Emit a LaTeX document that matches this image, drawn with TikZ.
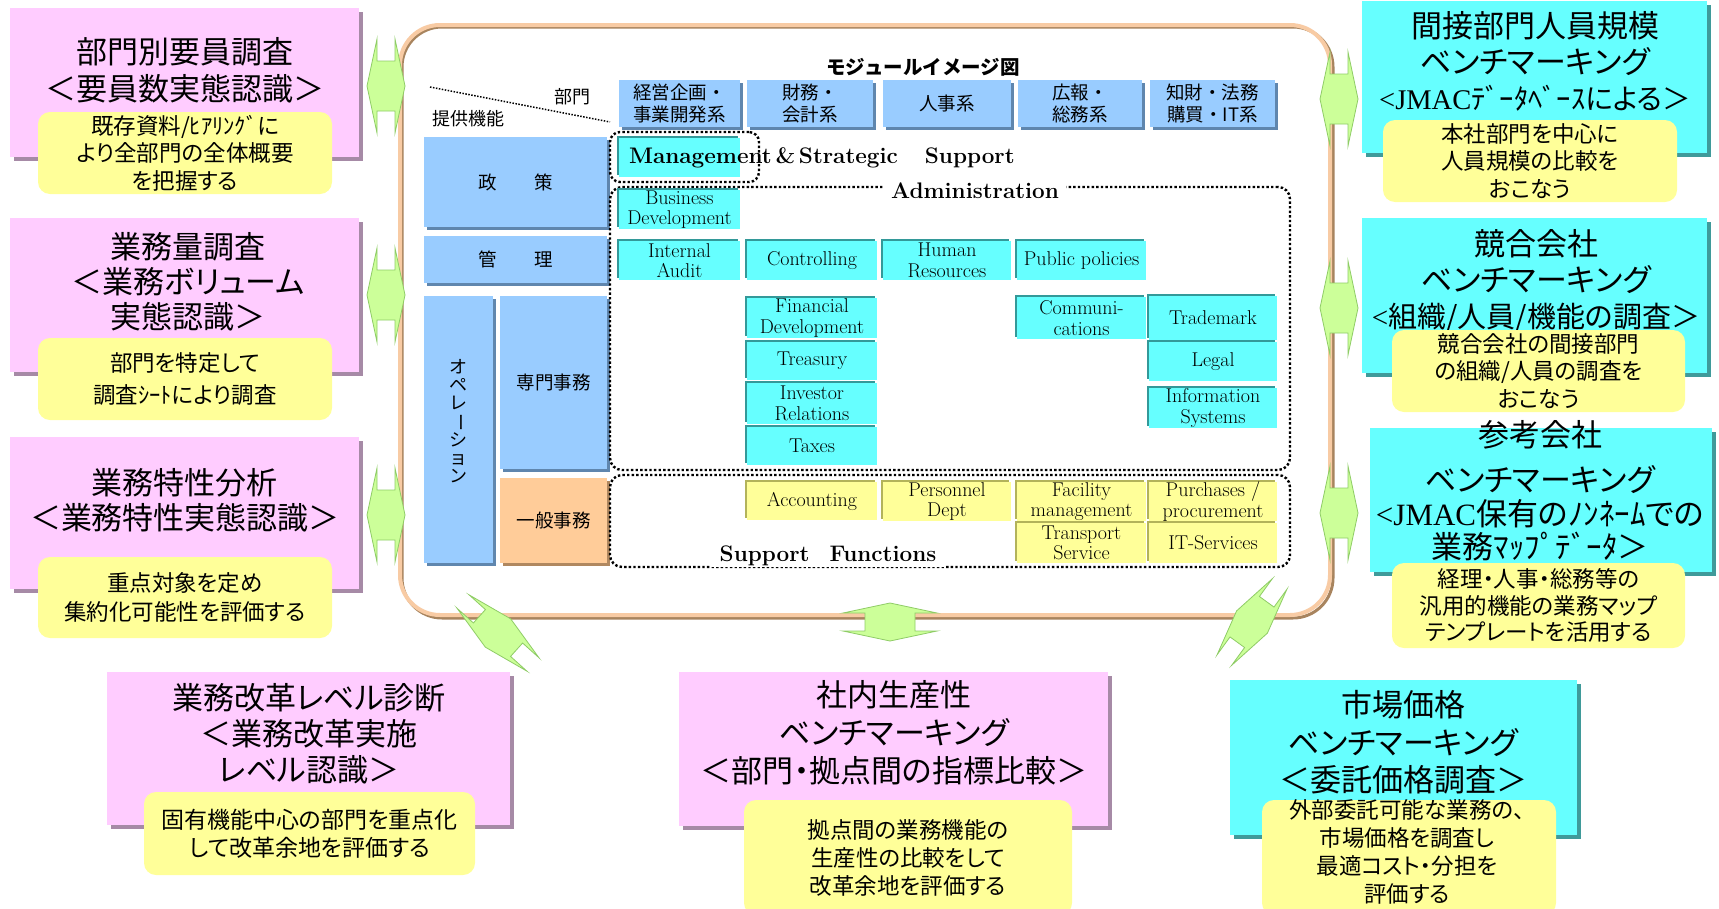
\documentclass[tikz,border=0pt]{standalone}
\usepackage{fontspec}
\usepackage{graphicx}
\usetikzlibrary{shadows}
\newfontfamily\jp[RawFeature=+palt]{Noto Sans CJK JP}
\newfontfamily\jpf{Noto Sans CJK JP}
\newfontfamily\ens{Liberation Serif}
\definecolor{pinkc}{HTML}{FFCCFF}
\definecolor{pinksh}{HTML}{A68AA6}
\definecolor{cyanc}{HTML}{66FFFF}
\definecolor{cyansh}{HTML}{3F9A9A}
\definecolor{yel}{HTML}{FFFF99}
\definecolor{bluec}{HTML}{99CCFF}
\definecolor{bluesh}{HTML}{5F86AE}
\definecolor{orangec}{HTML}{FFCC99}
\definecolor{orangesh}{HTML}{B08860}
\definecolor{celledge}{HTML}{339999}
\definecolor{yeledge}{HTML}{B3B35A}
\definecolor{agreen}{HTML}{CCFF99}
\definecolor{agreenedge}{HTML}{8FCC66}
\definecolor{peach}{HTML}{F8CBA4}
\definecolor{framebrown}{HTML}{A8845E}
\newcommand\cbox[7]{\node[#6, minimum width={(#4)-(#2)}, minimum height={(#5)-(#3)}] (#1) at ({((#2)+(#4))/2},{((#3)+(#5))/2}) {#7};}
\newcommand\tfont[1]{\jp\fontsize{31}{#1}\selectfont}
\newcommand\nfont[1]{\jp\fontsize{22.5}{#1}\selectfont}
\tikzset{
  every node/.style={inner sep=0pt, outer sep=0pt},
  pinkbox/.style={fill=pinkc, general shadow={fill=pinksh, shadow xshift=4pt, shadow yshift=-4pt}},
  cyanbox/.style={fill=cyanc, general shadow={fill=cyansh, shadow xshift=4pt, shadow yshift=-4pt}},
  note/.style={fill=yel, rounded corners=12pt, align=center},
  hdr/.style={fill=bluec, general shadow={fill=bluesh, shadow xshift=2.5pt, shadow yshift=-2.5pt}, font=\jpf\fontsize{18.5}{22}\selectfont, align=center},
  obox/.style={fill=orangec, general shadow={fill=orangesh, shadow xshift=2.5pt, shadow yshift=-2.5pt}, font=\jpf\fontsize{18.5}{22}\selectfont, align=center},
  ccell/.style={fill=cyanc, general shadow={fill=celledge, shadow xshift=-2pt, shadow yshift=2pt}, font=\fontsize{20}{20.5}\selectfont, align=center},
  ycell/.style={fill=yel, general shadow={fill=yeledge, shadow xshift=-2pt, shadow yshift=2pt}, font=\fontsize{20}{20.5}\selectfont, align=center},
  dotzone/.style={draw, line width=2.4pt, dash pattern=on 2.4pt off 2.2pt, rounded corners=12pt},
  boldlab/.style={font=\bfseries\fontsize{22.5}{24}\selectfont},
  ttl/.style={align=center},
  dblarrow/.pic={\path[fill=agreen, draw=agreenedge, line width=0.8pt] (-19,0) -- (-9,-47) -- (-9,-25) -- (9,-25) -- (9,-47) -- (19,0) -- (9,47) -- (9,25) -- (-9,25) -- (-9,47) -- cycle;}
}
\begin{document}
\begin{tikzpicture}[x=1pt,y=-1pt]
\useasboundingbox[fill=white] (0,0) rectangle (1719,908);
% frame
\cbox{frameS}{402}{27}{1333}{618}{draw=framebrown, line width=3pt, rounded corners=40pt}{}
\cbox{frame}{400}{25}{1330}{615}{draw=peach, line width=4pt, rounded corners=40pt}{}
% green double arrows
\pic (aL1) at (386,86) {dblarrow};
\pic (aL2) at (386,295) {dblarrow};
\pic (aL3) at (386,515) {dblarrow};
\pic (aR1) at (1339,99) {dblarrow};
\pic (aR2) at (1339,308) {dblarrow};
\pic (aR3) at (1339,513) {dblarrow};
\pic[rotate=90] (aB) at (890,622) {dblarrow};
\pic[rotate=48] (aBL) at (498,633) {dblarrow};
\pic[rotate=-36] (aBR) at (1252,622) {dblarrow};
% left pink boxes
\cbox{p1}{10}{8}{359}{157}{pinkbox}{}
\node[ttl, font=\tfont{37}] (p1t) at (185,70.5) {部門別要員調査\\＜要員数実態認識＞};
\cbox{p1n}{38}{112}{332}{194}{note, font=\nfont{27.5}}{既存資料/ﾋｱﾘﾝｸﾞに\\より全部門の全体概要\\を把握する}
\cbox{p2}{10}{218}{359}{372}{pinkbox}{}
\node[ttl, font=\tfont{35}] (p2t) at (188,282) {業務量調査\\＜業務ボリューム\\実態認識＞};
\cbox{p2n}{38}{338}{332}{420}{note, font=\nfont{31.5}}{部門を特定して\\調査ｼｰﾄにより調査}
\cbox{p3}{10}{437}{359}{589}{pinkbox}{}
\node[ttl, font=\tfont{35}] (p3t) at (185,500.5) {業務特性分析\\＜業務特性実態認識＞};
\cbox{p3n}{38}{557}{332}{638}{note, font=\nfont{29}}{重点対象を定め\\集約化可能性を評価する}
% bottom boxes
\cbox{p4}{107}{672}{510}{825}{pinkbox}{}
\node[ttl, font=\tfont{36}] (p4t) at (309,734) {業務改革レベル診断\\＜業務改革実施\\レベル認識＞};
\cbox{p4n}{144}{792}{475}{875}{note, font=\jp\fontsize{23}{28}\selectfont}{固有機能中心の部門を重点化\\して改革余地を評価する}
\cbox{p5}{679}{672}{1108}{826}{pinkbox}{}
\node[ttl, font=\tfont{38}] (p5t) at (894,733) {社内生産性\\ベンチマーキング\\＜部門・拠点間の指標比較＞};
\cbox{p5n}{744}{800}{1072}{915}{note, font=\nfont{28}}{拠点間の業務機能の\\生産性の比較をして\\改革余地を評価する}
\cbox{c6}{1230}{680}{1577}{835}{cyanbox}{}
\node[ttl, font=\tfont{37.5}] (c6t) at (1403,742.5) {市場価格\\ベンチマーキング\\＜委託価格調査＞};
\cbox{c6n}{1262}{800}{1556}{915}{note}{}
\node[ttl, font=\nfont{28}] (c6nt) at (1407,852) {外部委託可能な業務の、\\市場価格を調査し\\最適コスト・分担を\\評価する};
% right cyan boxes
\cbox{r1b}{1362}{1}{1707}{153}{cyanbox}{}
\node[ttl, font=\tfont{36}] (r1t) at (1535,61) {間接部門人員規模\\ベンチマーキング\\{\fontsize{28.5}{36}\selectfont{\ens <JMAC}ﾃﾞｰﾀﾍﾞｰｽによる＞}};
\cbox{r1n}{1383}{120}{1677}{202}{note, font=\nfont{27.5}}{本社部門を中心に\\人員規模の比較を\\おこなう}
\cbox{r2b}{1362}{218}{1707}{373}{cyanbox}{}
\node[ttl, font=\tfont{36}] (r2t) at (1536,281) {競合会社\\ベンチマーキング\\{\fontsize{29}{36}\selectfont{\ens <}組織/人員/機能の調査＞}};
\cbox{r2n}{1392}{330}{1685}{412}{note, font=\nfont{27.5}}{競合会社の間接部門\\の組織/人員の調査を\\おこなう}
\cbox{r3b}{1370}{428}{1712}{572}{cyanbox}{}
\node[ttl, font=\tfont{36}] (r3t1) at (1540,435) {参考会社};
\node[ttl, font=\tfont{33.5}] (r3t2) at (1540,513.5) {ベンチマーキング\\{\ens <JMAC}保有のﾉﾝﾈｰﾑでの\\業務ﾏｯﾌﾟﾃﾞｰﾀ＞};
\cbox{r3n}{1392}{563}{1685}{648}{note, font=\nfont{26.5}}{経理・人事・総務等の\\汎用的機能の業務マップ\\テンプレートを活用する}
% module image inside frame
\node[font=\jpf\bfseries\fontsize{19.5}{20}\selectfont] (modt) at (923,67) {モジュールイメージ図};
\node[font=\jpf\fontsize{18}{20}\selectfont] (bumon) at (572,97) {部門};
\node[font=\jpf\fontsize{18}{20}\selectfont] (kino) at (468,119) {提供機能};
\coordinate (dA) at (430,87);
\coordinate (dB) at (610,122);
\draw[line width=1.5pt, dash pattern=on 1.5pt off 1.5pt] (dA) -- (dB);
\cbox{h1}{619}{80}{740}{127}{hdr}{経営企画・\\事業開発系}
\cbox{h2}{747}{80}{873}{127}{hdr}{財務・\\会計系}
\cbox{h3}{883}{80}{1011}{127}{hdr}{人事系}
\cbox{h4}{1018}{80}{1142}{127}{hdr}{広報・\\総務系}
\cbox{h5}{1150}{80}{1275}{127}{hdr}{知財・法務\\購買・IT系}
\cbox{rl1}{424}{137}{607}{227}{hdr}{政　　策}
\cbox{rl2}{424}{236}{607}{283}{hdr}{管　　理}
\cbox{rl3}{424}{296}{493}{563}{hdr}{}
\node[align=center, font=\jpf\fontsize{18}{17.7}\selectfont] (opt) at (458,421) {オ\\ペ\\レ\\\rotatebox[origin=c]{-90}{ー}\\シ\\ョ\\ン};
\cbox{rl4}{500}{296}{607}{469}{hdr}{専門事務}
\cbox{rl5}{500}{478}{607}{563}{obox}{一般事務}
% dotted zones
\cbox{zmgmt}{610}{132}{759}{182}{dotzone, rounded corners=10pt}{}
\cbox{zadm}{610}{187}{1290}{470}{dotzone}{}
\cbox{zsup}{610}{475}{1290}{567}{dotzone}{}
% cells
\cbox{cmgmt}{619}{138}{740}{177}{ccell}{}
\cbox{cbd}{619}{190}{740}{229}{ccell}{Business\\Development}
\cbox{cia}{619}{241}{740}{280}{ccell}{Internal\\Audit}
\cbox{cctl}{747}{241}{877}{280}{ccell}{Controlling}
\cbox{chr}{883}{241}{1011}{280}{ccell}{Human\\Resources}
\cbox{cpp}{1017}{241}{1146}{280}{ccell}{Public policies}
\cbox{cfd}{747}{298}{877}{338}{ccell}{Financial\\Development}
\cbox{ctr}{747}{342}{877}{380}{ccell}{Treasury}
\cbox{cir}{747}{383}{877}{424}{ccell}{Investor\\Relations}
\cbox{ctx}{747}{427}{877}{465}{ccell}{Taxes}
\cbox{ccm}{1017}{297}{1146}{339}{ccell}{Communi-\\cations}
\cbox{ctm}{1149}{296}{1277}{340}{ccell}{Trademark}
\cbox{clg}{1149}{342}{1277}{381}{ccell}{Legal}
\cbox{cis}{1149}{388}{1277}{428}{ccell}{Information\\Systems}
\cbox{yac}{747}{482}{877}{520}{ycell}{Accounting}
\cbox{ypd}{883}{482}{1011}{521}{ycell}{Personnel\\Dept}
\cbox{yfm}{1017}{482}{1146}{521}{ycell}{Facility\\management}
\cbox{ypp}{1149}{482}{1277}{521}{ycell}{Purchases /\\procurement}
\cbox{yts}{1017}{523}{1146}{563}{ycell}{Transport\\Service}
\cbox{yit}{1149}{523}{1277}{563}{ycell}{IT-Services}
% labels
\node[boldlab, anchor=west] (mgmtlab) at (629,158) {Management\,\&\,Strategic\hspace{27pt}Support};
\node[boldlab, fill=white, inner xsep=7pt, inner ysep=1pt] (admlab) at (975,191) {Administration};
\node[boldlab, fill=white, inner xsep=9pt, inner ysep=1pt] (suplab) at (828,556) {Support\hspace{20pt}Functions};
\end{tikzpicture}
\end{document}
